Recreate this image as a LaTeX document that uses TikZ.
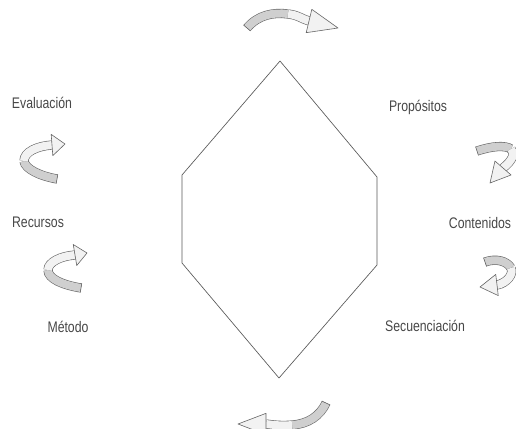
\documentclass[tikz,border=0pt]{standalone}
\usepackage{fontspec}
\setmainfont{Liberation Sans}[FakeStretch=0.8]
\usetikzlibrary{calc}
\tikzset{
  rib/.style={draw=gray!80!black, line width=0.45pt, double distance=6pt},
  ribcap/.style={draw=gray!80!black, line width=0.45pt},
  ribhead/.style={draw=gray!80!black, line width=0.45pt, line join=round},
  lbl/.style={text=black!72, font=\fontsize{11.5}{13}\selectfont, inner sep=0pt, anchor=base},
  hex/.style={draw=black!65, line width=0.5pt, line join=round},
}
\newcommand\ribbonarrow[4]{%
  \draw[rib, double=#2] (#1-0) .. controls (#1-1) and (#1-2) .. (#1-m);
  \draw[rib, double=#3] (#1-m) .. controls (#1-3) and (#1-4) .. (#1-n);
  \draw[ribcap] ($(#1-0)!3.45pt!90:(#1-1)$) -- ($(#1-0)!3.45pt!-90:(#1-1)$);
  \filldraw[ribhead, fill=#3] ($(#1-n)!#4!90:(#1-t)$) -- (#1-t) -- ($(#1-n)!#4!-90:(#1-t)$) -- cycle;
}
\begin{document}
\begin{tikzpicture}[x=0.75pt, y=-0.75pt]
\useasboundingbox (0,0) rectangle (516,428);

% hexagon
\coordinate (h1) at (280,61);
\coordinate (h2) at (377,177);
\coordinate (h3) at (377,265);
\coordinate (h4) at (279,378);
\coordinate (h5) at (182,263);
\coordinate (h6) at (182,175);
\draw[hex] (h1) -- (h2) -- (h3) -- (h4) -- (h5) -- (h6) -- cycle;

% labels
\node[lbl] (evaluacion) at (42,108) {Evaluación};
\node[lbl] (propositos) at (418,111) {Propósitos};
\node[lbl] (recursos) at (38,227) {Recursos};
\node[lbl] (contenidos) at (480,228) {Contenidos};
\node[lbl] (metodo) at (68,332) {Método};
\node[lbl] (secuenciacion) at (425,331) {Secuenciación};

% Evaluacion arrow
\coordinate (e-0) at (57,179); \coordinate (e-1) at (40,176); \coordinate (e-2) at (25,169);
\coordinate (e-m) at (24,161); \coordinate (e-3) at (24,152); \coordinate (e-4) at (37,146);
\coordinate (e-n) at (52,145); \coordinate (e-t) at (65,144);
\ribbonarrow{e}{gray!38}{gray!10}{8pt}

% Recursos arrow
\coordinate (r-0) at (81,288); \coordinate (r-1) at (63,285); \coordinate (r-2) at (48,279);
\coordinate (r-m) at (48,270); \coordinate (r-3) at (48,262); \coordinate (r-4) at (61,256);
\coordinate (r-n) at (75,255); \coordinate (r-t) at (87,253);
\ribbonarrow{r}{gray!38}{gray!10}{8pt}

% Propositos arrow
\coordinate (p-0) at (477,151); \coordinate (p-1) at (492,146); \coordinate (p-2) at (505,145);
\coordinate (p-m) at (511,149); \coordinate (p-3) at (516,153); \coordinate (p-4) at (512,161);
\coordinate (p-n) at (503,168); \coordinate (p-t) at (490,183);
\ribbonarrow{p}{gray!38}{gray!10}{8pt}

% Contenidos arrow
\coordinate (c-0) at (485,262); \coordinate (c-1) at (496,258); \coordinate (c-2) at (507,261);
\coordinate (c-m) at (511,268); \coordinate (c-3) at (514,274); \coordinate (c-4) at (507,283);
\coordinate (c-n) at (497,285); \coordinate (c-t) at (480,287);
\ribbonarrow{c}{gray!38}{gray!10}{8pt}

% top arrow
\coordinate (a-0) at (247,28); \coordinate (a-1) at (258,15); \coordinate (a-2) at (273,12);
\coordinate (a-m) at (288,14); \coordinate (a-3) at (298,15); \coordinate (a-4) at (302,19);
\coordinate (a-n) at (309,21); \coordinate (a-t) at (338,28);
\ribbonarrow{a}{gray!38}{gray!10}{9pt}

% bottom arrow
\coordinate (b-0) at (326,403); \coordinate (b-1) at (320,416); \coordinate (b-2) at (308,424);
\coordinate (b-m) at (292,425); \coordinate (b-3) at (282,426); \coordinate (b-4) at (274,425);
\coordinate (b-n) at (266,424); \coordinate (b-t) at (238,424);
\ribbonarrow{b}{gray!38}{gray!10}{8pt}
\end{tikzpicture}
\end{document}
